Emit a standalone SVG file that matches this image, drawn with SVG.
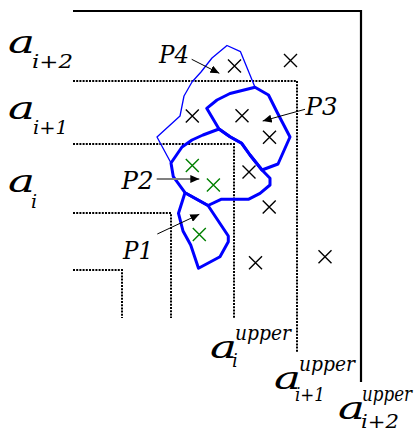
<svg xmlns="http://www.w3.org/2000/svg" width="417" height="433" viewBox="0 0 417 433">
<style>
text{font-family:'DejaVu Serif',serif;font-style:italic;fill:#000}
.big{font-size:31px}
.sub{font-size:19px}
.sub2{font-size:18px}
.sup{font-size:21px}
.pl{font-size:24px}
.dot{fill:none;stroke:#000;stroke-width:2;stroke-dasharray:2 1.2}
.frame{fill:none;stroke:#000;stroke-width:2.2}
.thick{fill:none;stroke:#0000ff;stroke-width:3;stroke-linejoin:round}
.thin{fill:none;stroke:#0000ff;stroke-width:1.3;stroke-linejoin:round}
.xb{stroke:#000;stroke-width:1.4;fill:none}
.xg{stroke:#008000;stroke-width:1.4;fill:none}
.arr{stroke:#000;stroke-width:1;fill:none;marker-end:url(#ah)}
.arrg{stroke:#808080;stroke-width:2;fill:none;marker-end:url(#ah)}
</style>
<defs>
<marker id="ah" markerUnits="userSpaceOnUse" markerWidth="10" markerHeight="8" refX="9" refY="4" orient="auto">
<path d="M0,0 L9,4 L0,8 Z" fill="#000"/>
</marker>
<path id="x" d="M-6.5,-6.5 L6.5,6.5 M-6.5,6.5 L6.5,-6.5"/>
</defs>

<g id="axes">
<path class="frame" d="M73,11 H361 V382"/>
<path class="dot" d="M73,81 H297 V353"/>
<path class="dot" d="M73,144 H234 V318"/>
<path class="dot" d="M73,213 H171 V318"/>
<path class="dot" d="M73,270 H122 V318"/>
</g>

<g id="P4">
<path class="thin" d="M171,163 L157,137 L180,116 L184,96 L192,82 L201,72 L212,58 L227,45.5 L240.5,51.7 L255,87.3"/>
</g>
<g id="P3">
<path class="thick" d="M219,129 L206.7,108.3 L217,100 L230,93.5 L255,87.3 L268.5,95 L277,112 L290,137 L278,164 L262,170 L250,155 L241.7,143.3 L230,136.7 Z"/>
</g>
<g id="P2">
<path class="thick" d="M171,163 L173.3,176.7 L185,192.7 L208,205.5 L221,199.3 L248.3,199.3 L260,193.3 L270,185 L270,178.3 L262,170 L250,155 L241.7,143.3 L230,136.7 L219,129 L203,135 L192,140 L182,147 Z"/>
</g>
<g id="P1">
<path class="thick" d="M185,192.7 L178.5,213.3 L183,231 L190.7,245 L198.5,268.3 L220,256.7 L228.3,241.7 L228.3,236 L208,205.5 Z"/>
</g>

<g id="points">
<use href="#x" class="xb" x="234.5" y="66"/>
<use href="#x" class="xb" x="290.5" y="60.5"/>
<use href="#x" class="xb" x="192.3" y="116"/>
<use href="#x" class="xb" x="242" y="115.8"/>
<use href="#x" class="xb" x="269.5" y="137.3"/>
<use href="#x" class="xb" x="249" y="172"/>
<use href="#x" class="xb" x="269.2" y="207"/>
<use href="#x" class="xb" x="255.5" y="262.8"/>
<use href="#x" class="xb" x="325" y="256.7"/>
<use href="#x" class="xg" x="192.3" y="165.5"/>
<use href="#x" class="xg" x="213.4" y="185"/>
<use href="#x" class="xg" x="199.3" y="234.6"/>
</g>

<g id="connectors">
<path class="arr" d="M191.7,59.3 L219.3,73.3"/>
<path class="arr" d="M305,109.3 L262.7,121"/>
<path class="arrg" d="M156.7,179 L199.3,179"/>
<path class="arr" d="M157.3,234 L199.3,214.3"/>
</g>

<g id="plabels">
<text class="pl" x="159" y="63" textLength="30" lengthAdjust="spacingAndGlyphs">P4</text>
<text class="pl" x="305.5" y="115" textLength="32" lengthAdjust="spacingAndGlyphs">P3</text>
<text class="pl" x="121.5" y="188.5" textLength="32" lengthAdjust="spacingAndGlyphs">P2</text>
<text class="pl" x="123" y="259" textLength="30" lengthAdjust="spacingAndGlyphs">P1</text>
</g>

<g id="leftlabels">
<text class="big" x="8" y="53" textLength="27" lengthAdjust="spacingAndGlyphs">a</text>
<text class="sub" x="32" y="68" textLength="41" lengthAdjust="spacingAndGlyphs">i+2</text>
<text class="big" x="8" y="119" textLength="27" lengthAdjust="spacingAndGlyphs">a</text>
<text class="sub" x="33" y="134" textLength="35" lengthAdjust="spacingAndGlyphs">i+1</text>
<text class="big" x="8" y="192" textLength="27" lengthAdjust="spacingAndGlyphs">a</text>
<text class="sub" x="31" y="208">i</text>
</g>

<g id="bottomlabels">
<text class="big" x="210" y="358" textLength="27" lengthAdjust="spacingAndGlyphs">a</text>
<text class="sup" x="235" y="340" textLength="56" lengthAdjust="spacingAndGlyphs">upper</text>
<text class="sub2" x="232" y="367">i</text>
<text class="big" x="274" y="389" textLength="27" lengthAdjust="spacingAndGlyphs">a</text>
<text class="sup" x="299" y="371" textLength="56" lengthAdjust="spacingAndGlyphs">upper</text>
<text class="sub2" x="295" y="401" textLength="30" lengthAdjust="spacingAndGlyphs">i+1</text>
<text class="big" x="338" y="419" textLength="27" lengthAdjust="spacingAndGlyphs">a</text>
<text class="sup" x="362" y="401" textLength="50" lengthAdjust="spacingAndGlyphs">upper</text>
<text class="sub2" x="361" y="428" textLength="38" lengthAdjust="spacingAndGlyphs">i+2</text>
</g>
</svg>
